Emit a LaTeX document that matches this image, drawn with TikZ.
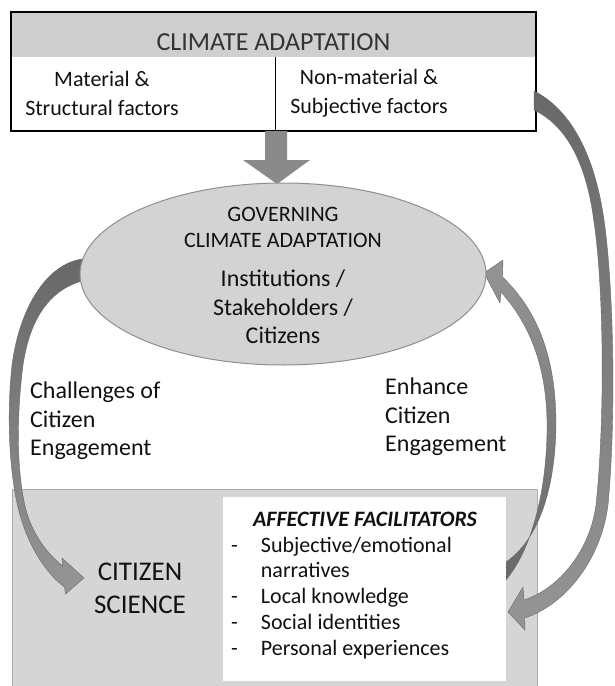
\documentclass[tikz,border=0pt]{standalone}
\usepackage{fontspec}
\setmainfont{Carlito}
\usetikzlibrary{shapes.geometric}

\definecolor{hdrgray}{HTML}{CFCFCF}
\definecolor{ovalgray}{HTML}{D3D3D3}
\definecolor{ovaledge}{HTML}{8E8E8E}
\definecolor{panelgray}{HTML}{D5D5D5}
\definecolor{paneledge}{HTML}{ABABAB}
\definecolor{arrowdark}{HTML}{686868}
\definecolor{arrowlight}{HTML}{959595}
\definecolor{arrowmid}{HTML}{8A8A8A}
\definecolor{inktext}{HTML}{111111}

\tikzset{
  txt/.style={text=inktext, inner sep=0pt, align=center},
  fnt/.style 2 args={font=\fontsize{#1}{#2}\selectfont},
  blockarrow/.style={draw=arrowdark, line width=0.4pt},
}

\begin{document}
\begin{tikzpicture}[x=1pt,y=-1pt]
\useasboundingbox (0,0) rectangle (615,686);

% ---------- top box: climate adaptation ----------
\fill[hdrgray] (11,12) rectangle (536,57);
\draw[line width=1.1pt] (11,12) rectangle (536,131);
\draw[line width=0.8pt] (275,57) -- (275,131);
\node[txt, fnt={26}{30}, text=black!80] (title) at (273.5,42) {CLIMATE ADAPTATION};
\node[txt, fnt={22}{29}] (matl) at (102,93) {Material \&\\Structural factors};
\node[txt, fnt={22}{29}] (nonmatl) at (369,93) {Non-material \&\\Subjective factors};

% ---------- arrow from the top box down to the oval ----------
\fill[arrowmid] (265,131) -- (287,131) -- (287,160) -- (310,160) -- (277,184)
  -- (243,160) -- (265,160) -- cycle;

% ---------- bottom panel ----------
\filldraw[fill=panelgray, draw=paneledge, line width=1pt] (12,489) rectangle (537,690);

% ---------- curved arrows ----------
% challenges: from the oval down to citizen science
\shade[blockarrow, top color=arrowdark, bottom color=arrowlight]
  (90,258) -- (82,259) .. controls (48,264) and (20,305) .. (12,365)
  .. controls (6,420) and (10,480) .. (20,515)
  .. controls (30,550) and (48,575) .. (64.5,587)
  -- (65.5,594) -- (84,578) -- (62,558) -- (62.8,566)
  .. controls (45,552) and (32,532) .. (26,510)
  .. controls (17,475) and (16,420) .. (23,365)
  .. controls (30,318) and (50,290) .. (82,281) -- (90,281) -- cycle;

% enhance: from the facilitators back up to the oval
\shade[blockarrow, top color=arrowlight, bottom color=arrowdark]
  (500,566) -- (506,562) .. controls (538,540) and (556,490) .. (556,420)
  .. controls (555,370) and (545,318) .. (502.5,277)
  -- (503,260) -- (484,273) -- (500,303) -- (501,292)
  .. controls (535,330) and (546,375) .. (547,420)
  .. controls (548,480) and (535,545) .. (506,580) -- (500,582) -- cycle;

% outer loop: from the non-material factors to the facilitators
\shade[blockarrow, top color=arrowdark, bottom color=arrowlight]
  (534,91) .. controls (568,108) and (594,150) .. (604,220)
  .. controls (614,290) and (616,420) .. (608,505)
  .. controls (601,560) and (565,605) .. (524.7,618)
  -- (525,630) -- (508,612) -- (523,587) -- (524,600)
  .. controls (560,588) and (590,550) .. (596,505)
  .. controls (605,420) and (604,290) .. (594,222)
  .. controls (586,160) and (565,125) .. (534,110) -- cycle;

% ---------- governing oval ----------
\node[ellipse, fill=ovalgray, draw=ovaledge, line width=1pt,
      minimum width=406pt, minimum height=182pt, inner sep=0pt] (gov) at (283,274) {};
\node[txt, fnt={22}{26}] (govhead) at (283,227) {GOVERNING\\CLIMATE ADAPTATION};
\node[txt, fnt={24}{28.5}] (actors) at (283,307) {Institutions /\\Stakeholders /\\Citizens};

% ---------- arrow labels ----------
\node[txt, fnt={24}{28.5}, align=left, anchor=west] (challenges) at (30,421)
  {Challenges of\\Citizen\\Engagement};
\node[txt, fnt={24}{28.5}, align=left, anchor=west] (enhance) at (385,417)
  {Enhance\\Citizen\\Engagement};

% ---------- citizen science panel ----------
\fill[white] (223,497) rectangle (506,681);
\node[txt, fnt={27}{33}] (cs) at (140,588) {CITIZEN\\SCIENCE};
\node[txt, font=\fontsize{22}{26}\selectfont\bfseries\itshape] (affhead) at (365,519)
  {AFFECTIVE FACILITATORS};
\node[txt, fnt={22}{25.75}, align=left, anchor=north west] (afflist) at (231,534)
  {\begin{tabular}{@{}l@{\hspace{23pt}}l@{}}
   - & Subjective/emotional\\
     & narratives\\
   - & Local knowledge\\
   - & Social identities\\
   - & Personal experiences
   \end{tabular}};
\end{tikzpicture}
\end{document}
